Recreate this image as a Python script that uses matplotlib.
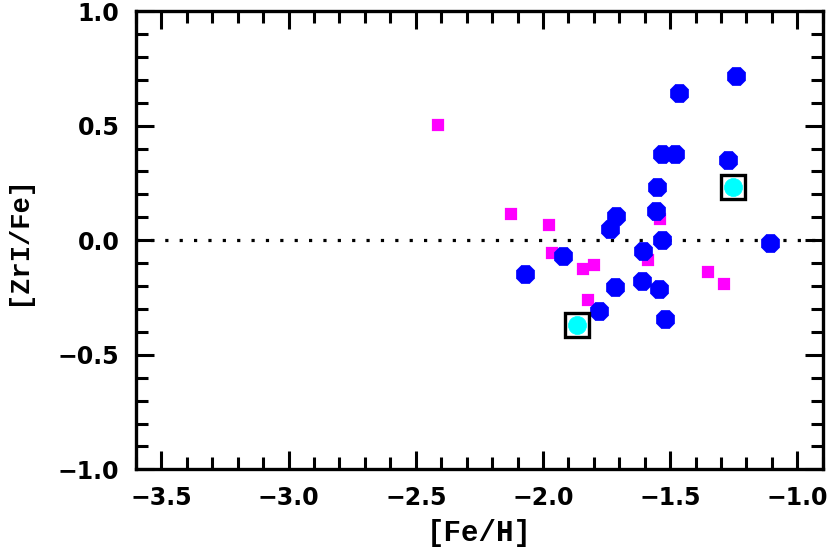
import matplotlib
matplotlib.use("Agg")
import matplotlib.pyplot as plt
from matplotlib.ticker import MultipleLocator, FuncFormatter

# Blue points (octagons)
blue_feh = [-1.242, -1.464, -1.532, -1.482, -1.273, -1.550, -1.554, -1.711, -1.737,
            -1.109, -1.532, -1.606, -1.922, -2.071, -1.610, -1.715, -1.542, -1.780, -1.521]
blue_zr = [0.716, 0.643, 0.376, 0.376, 0.351, 0.233, 0.128, 0.105, 0.051,
           -0.012, 0.000, -0.047, -0.070, -0.146, -0.178, -0.204, -0.213, -0.311, -0.345]

# Magenta points (squares)
mag_feh = [-2.412, -2.125, -1.978, -1.965, -1.841, -1.799, -1.822, -1.539, -1.585, -1.352, -1.289]
mag_zr = [0.502, 0.114, 0.066, -0.055, -0.127, -0.108, -0.262, 0.093, -0.087, -0.140, -0.193]

# Cyan highlighted points (boxed)
cyan_feh = [-1.251, -1.865]
cyan_zr = [0.233, -0.371]

x_ticks = [-3.5, -3.0, -2.5, -2.0, -1.5, -1.0]
y_ticks = [-1.0, -0.5, 0.0, 0.5, 1.0]

fig = plt.figure(figsize=(8.30, 5.53), dpi=100)
ax = fig.add_axes([0.1639, 0.1513, 0.9912 - 0.1639, 0.980 - 0.1513])

ax.axhline(0.0, color='black', lw=2.3, linestyle=(0, (1, 3.5)), dash_capstyle='butt', zorder=1)

ax.plot(mag_feh, mag_zr, linestyle='none', marker='s', markersize=7.2,
        markerfacecolor='#ff00ff', markeredgecolor='#ff00ff', markeredgewidth=1.6,
        zorder=2)
ax.plot(blue_feh, blue_zr, linestyle='none', marker='8', markersize=14,
        markerfacecolor='#0000ff', markeredgecolor='#0000ff', markeredgewidth=0.5, zorder=3)
ax.plot(cyan_feh, cyan_zr, linestyle='none', marker='o', markersize=13,
        markerfacecolor='#00ffff', markeredgecolor='#00ffff', markeredgewidth=0.5, zorder=4)
ax.plot(cyan_feh, cyan_zr, linestyle='none', marker='s', markersize=17,
        markerfacecolor='none', markeredgecolor='black', markeredgewidth=2.4, zorder=5)

ax.set_xlim(-3.6, -0.9)
ax.set_ylim(-1.0, 1.0)
ax.set_xticks(x_ticks)
ax.set_yticks(y_ticks)
ax.xaxis.set_minor_locator(MultipleLocator(0.1))
ax.yaxis.set_minor_locator(MultipleLocator(0.1))
fmt = FuncFormatter(lambda v, p: ('%.1f' % v).replace('-', '\u2212'))
ax.xaxis.set_major_formatter(fmt)
ax.yaxis.set_major_formatter(fmt)

for s in ax.spines.values():
    s.set_linewidth(2.4)
ax.tick_params(which='both', direction='in', top=True, right=True, width=2.2)
ax.tick_params(which='major', length=13)
ax.tick_params(which='minor', length=8.6)
ax.tick_params(axis='x', which='major', pad=12)
ax.tick_params(axis='y', which='major', pad=12)
for lab in ax.get_xticklabels() + ax.get_yticklabels():
    lab.set_fontfamily('DejaVu Sans')
    lab.set_fontweight('bold')
    lab.set_fontsize(17)

ax.set_xlabel('[Fe/H]', fontfamily='Liberation Mono', fontweight='bold', fontsize=21, va='center')
ax.set_ylabel('[ZrI/Fe]', fontfamily='Liberation Mono', fontweight='bold', fontsize=19.5, va='center')
ax.xaxis.set_label_coords(0.5, -0.14)
ax.yaxis.set_label_coords(-0.172, 0.5)

fig.savefig('out.png', dpi=100)
